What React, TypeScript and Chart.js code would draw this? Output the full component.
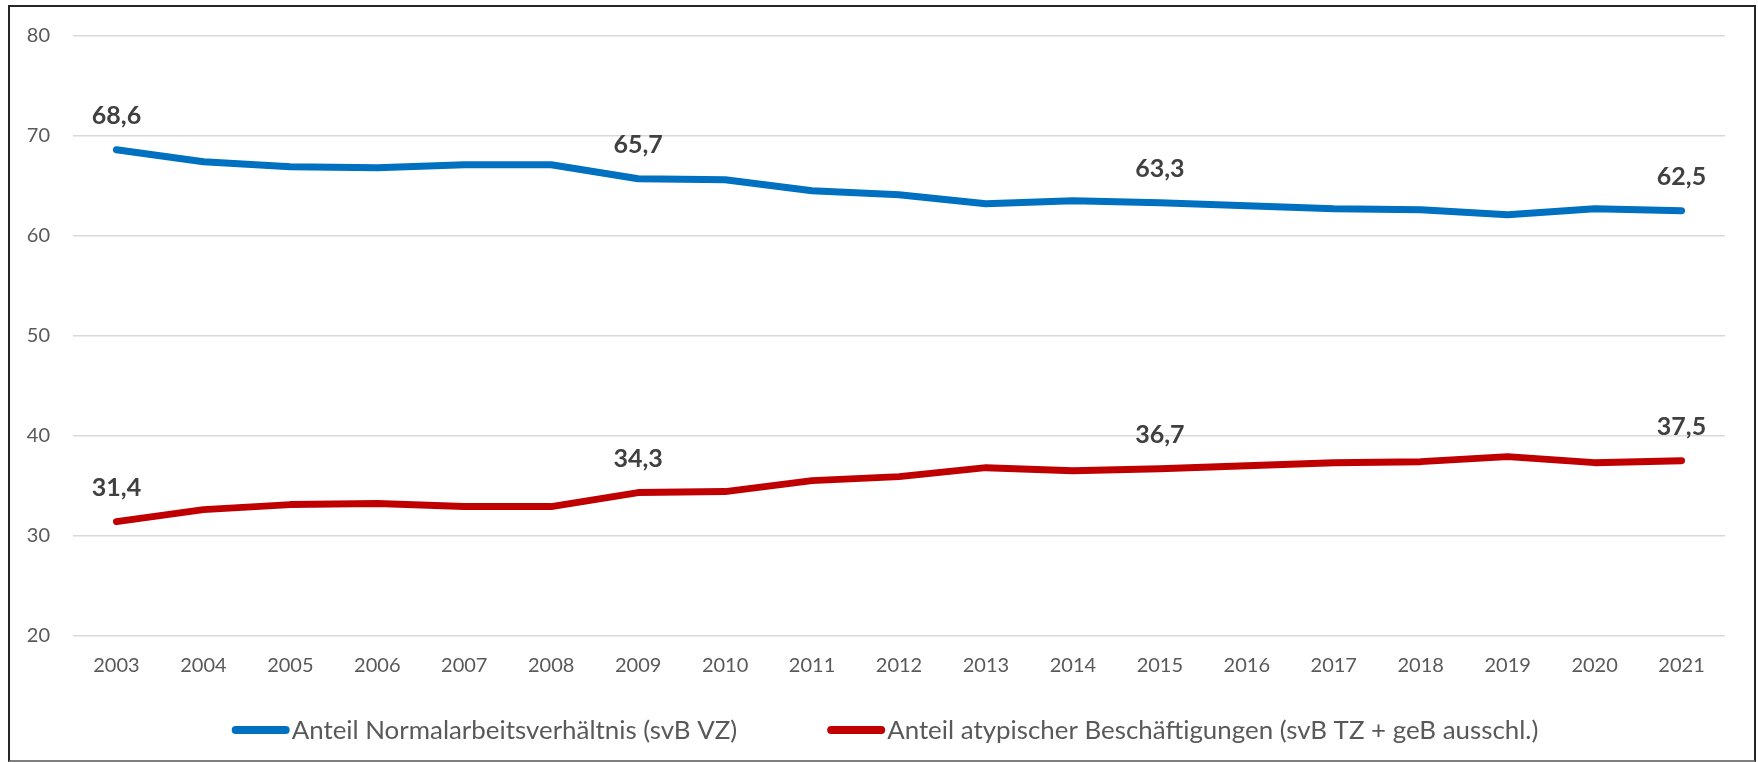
import React, { useEffect, useRef } from "react";
import { Chart, registerables } from "chart.js";

Chart.register(...registerables);

const years = ["2003","2004","2005","2006","2007","2008","2009","2010","2011","2012","2013","2014","2015","2016","2017","2018","2019","2020","2021"];
const normalShare = [68.6, 67.4, 66.9, 66.8, 67.1, 67.1, 65.7, 65.6, 64.5, 64.1, 63.2, 63.5, 63.3, 63.0, 62.7, 62.6, 62.1, 62.7, 62.5];
const atypicalShare = [31.4, 32.6, 33.1, 33.2, 32.9, 32.9, 34.3, 34.4, 35.5, 35.9, 36.8, 36.5, 36.7, 37.0, 37.3, 37.4, 37.9, 37.3, 37.5];
const labelledYears = ["2003", "2009", "2015", "2021"];
const seriesNames = ["Anteil Normalarbeitsverhältnis (svB VZ)", "Anteil atypischer Beschäftigungen (svB TZ + geB ausschl.)"];
const seriesColors = ["#0070C0", "#C00000"];
const yTicks = [20, 30, 40, 50, 60, 70, 80];

const FONT = "Lato, 'Open Sans', sans-serif";

const dataLabelPlugin = {
  id: "dataLabels",
  afterDatasetsDraw(chart: any) {
    const ctx = chart.ctx;
    ctx.save();
    ctx.font = `bold 25px ${FONT}`;
    ctx.fillStyle = "#404040";
    ctx.textAlign = "center";
    ctx.textBaseline = "middle";
    chart.data.datasets.forEach((ds: any, di: number) => {
      const meta = chart.getDatasetMeta(di);
      labelledYears.forEach((yr) => {
        const idx = years.indexOf(yr);
        const el = meta.data[idx];
        if (!el) return;
        const txt = Number(ds.data[idx]).toFixed(1).replace(".", ",");
        ctx.fillText(txt, el.x, el.y - 34);
      });
    });
    ctx.restore();
  },
};

const legendPlugin = {
  id: "customLegend",
  afterDraw(chart: any) {
    const ctx = chart.ctx;
    ctx.save();
    ctx.font = `25.9px ${FONT}`;
    const lineLen = 58;
    const gap = 2;
    const itemGap = 90;
    const widths = seriesNames.map((n) => lineLen + gap + ctx.measureText(n).width);
    const total = widths.reduce((a, b) => a + b, 0) + itemGap * (widths.length - 1);
    let x = chart.width / 2 - total / 2 + 3;
    const y = 723;
    seriesNames.forEach((name, i) => {
      ctx.strokeStyle = seriesColors[i];
      ctx.lineWidth = 8;
      ctx.lineCap = "round";
      ctx.beginPath();
      ctx.moveTo(x + 4, y);
      ctx.lineTo(x + lineLen - 4, y);
      ctx.stroke();
      ctx.fillStyle = "#595959";
      ctx.textAlign = "left";
      ctx.textBaseline = "middle";
      ctx.fillText(name, x + lineLen + gap, y + 1);
      x += widths[i] + itemGap;
    });
    ctx.restore();
  },
};

export default function App() {
  const ref = useRef<HTMLCanvasElement>(null);
  useEffect(() => {
    if (!ref.current) return;
    const chart = new Chart(ref.current, {
      type: "line",
      data: {
        labels: years,
        datasets: [
          {
            label: seriesNames[0],
            data: normalShare,
            borderColor: seriesColors[0],
            backgroundColor: seriesColors[0],
            borderWidth: 7,
            borderCapStyle: "round",
            borderJoinStyle: "round",
            pointRadius: 0,
            tension: 0,
          },
          {
            label: seriesNames[1],
            data: atypicalShare,
            borderColor: seriesColors[1],
            backgroundColor: seriesColors[1],
            borderWidth: 7,
            borderCapStyle: "round",
            borderJoinStyle: "round",
            pointRadius: 0,
            tension: 0,
          },
        ],
      },
      options: {
        animation: false,
        responsive: false,
        maintainAspectRatio: false,
        layout: { padding: { left: 0, right: 29, top: 28.7, bottom: 64.4 } },
        plugins: {
          legend: { display: false },
          tooltip: { enabled: false },
        },
        scales: {
          x: {
            offset: true,
            grid: { display: false, drawTicks: false },
            border: { display: false },
            ticks: {
              color: "#595959",
              font: { family: FONT, size: 20 },
              padding: 18,
              maxRotation: 0,
              autoSkip: false,
            },
            afterFit: (s: any) => { s.height = 60; s.paddingLeft = 0; s.paddingRight = 0; },
          },
          y: {
            min: 20,
            max: 80,
            afterBuildTicks: (s: any) => { s.ticks = yTicks.map((v) => ({ value: v })); },
            grid: { color: "#d9d9d9", lineWidth: 1.5, drawTicks: false },
            border: { display: false },
            ticks: {
              color: "#595959",
              font: { family: FONT, size: 20 },
              padding: 23,
            },
            afterFit: (s: any) => { s.width = 63; s.paddingTop = 0; s.paddingBottom = 0; },
          },
        },
      },
      plugins: [dataLabelPlugin, legendPlugin],
    });
    return () => chart.destroy();
  }, []);
  return (
    <div
      style={{
        position: "absolute",
        left: 8,
        top: 5,
        width: 1744,
        height: 753,
        borderTop: "2px solid #262626",
        borderLeft: "2px solid #262626",
        borderRight: "2px solid #262626",
        borderBottom: "2px solid #7f7f7f",
        background: "#fff",
      }}
    >
      <canvas ref={ref} width={1744} height={753} style={{ display: "block" }} />
    </div>
  );
}
